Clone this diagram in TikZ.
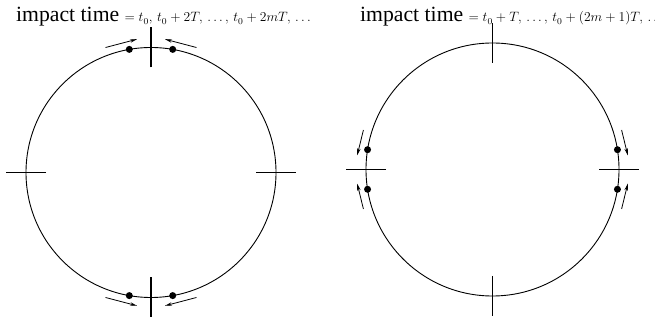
\documentclass[tikz,border=0pt]{standalone}
\usepackage[no-math]{fontspec}
\usepackage{graphicx}
\setmainfont{Liberation Serif}
\usetikzlibrary{arrows.meta,calc}
\newcommand{\titlesize}{\fontsize{21.7}{26}\selectfont}
\newcommand{\seqtext}[1]{\fontsize{12}{14}\selectfont\scalebox{1.13}{$#1$}}
\tikzset{orbit/.style={line width=0.9pt},
  tickline/.style={line width=1.4pt},
  ball/.style={circle,fill,inner sep=0pt,minimum size=7pt},
  flow/.style={-{Stealth[length=7pt,width=3.5pt]},line width=0.8pt}}

\begin{document}
\begin{tikzpicture}[x=1pt,y=1pt]
\useasboundingbox (0,0) rectangle (655,320);
\coordinate (L) at (151,147.5);
\coordinate (R) at (492.5,150.5);
% titles
\node[anchor=base west,inner sep=0pt] (lefttitle) at (16,298) {\titlesize impact time};
\node[anchor=base west,inner sep=0pt] (leftseq) at ($(lefttitle.base east)+(5,0)$)
  {\seqtext{= t_0,\,t_0+2T,\,\ldots,\,t_0+2mT,\,\ldots}};
\node[anchor=base west,inner sep=0pt] (righttitle) at (360,298) {\titlesize impact time};
\node[anchor=base west,inner sep=0pt] (rightseq) at ($(righttitle.base east)+(5,0)$)
  {\seqtext{= t_0+T,\,\ldots,\,t_0+(2m+1)T,\,\ldots}};
% orbits and impact marks
\draw[orbit] (L) circle (125);
\draw[orbit] (R) circle (126.5);
\foreach \a in {0,90,180,270}{
  \draw[tickline] ($(L)+(\a:105)$) -- ($(L)+(\a:145)$);
  \draw[tickline] ($(R)+(\a:106.5)$) -- ($(R)+(\a:146.5)$);
}
% balls at impact with even times
\foreach \a in {80,100,260,280}
  \node[ball] (bl\a) at ($(L)+(\a:125)$) {};
\foreach \a/\b in {110/96,70/84,250/264,290/276}
  \draw[flow] ($(L)+(\a:133)$) -- ($(L)+(\b:134)$);
% balls at impact with odd times
\foreach \a in {9,171,189,351}
  \node[ball] (br\a) at ($(R)+(\a:126.5)$) {};
\foreach \a/\b in {163/174,197/186,17/6,343/354}
  \draw[flow] ($(R)+(\a:135)$) -- ($(R)+(\b:136)$);
\end{tikzpicture}
\end{document}
